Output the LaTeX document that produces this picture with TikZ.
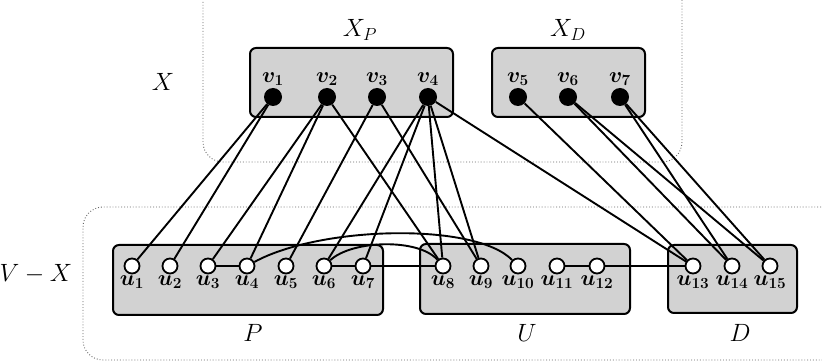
\RequirePackage{fix-cm}
\documentclass[tikz,border=0pt]{standalone}
\begin{document}
\begin{tikzpicture}[x=1pt,y=-1pt,
  grp/.style={draw, line width=2pt, rounded corners=6pt, fill=gray!35, inner sep=0pt},
  vn/.style={circle, fill=black, minimum size=18pt, inner sep=0pt},
  un/.style={circle, draw, line width=1.8pt, fill=white, minimum size=15pt, inner sep=0pt},
  edge/.style={line width=1.9pt},
  lab/.style={font=\fontsize{22}{25}\selectfont\boldmath},
  big/.style={font=\fontsize{25}{29}\selectfont},
  region/.style={dotted, line width=0.9pt, black!60, rounded corners=20pt},
  every label/.style={lab, inner sep=0pt}
]
\useasboundingbox (0,0) rectangle (822,363);

% dotted regions
\draw[region] (203,-30) -- (203,162) -- (682,162) -- (682,-30);
\draw[region] (850,207) -- (83,207) -- (83,360) -- (850,360);

% group boxes
\node[grp, minimum width=203pt, minimum height=69pt] (XP) at (351.5,82.5) {};
\node[grp, minimum width=153pt, minimum height=69pt] (XD) at (568.5,82.5) {};
\node[grp, minimum width=270pt, minimum height=70pt] (P) at (248,280) {};
\node[grp, minimum width=210pt, minimum height=70pt] (U) at (525,279) {};
\node[grp, minimum width=129pt, minimum height=68pt] (D) at (732.5,279) {};

% big labels
\node[big] (lX) at (163,82) {$X$};
\node[big] (lVX) at (36,274) {$V-X$};
\node[big] (lXP) at (360,30) {$X_P$};
\node[big] (lXD) at (568,30) {$X_D$};
\node[big] (lP) at (253,333) {$P$};
\node[big] (lU) at (527,333) {$U$};
\node[big] (lD) at (740,333) {$D$};

% X nodes
\foreach \n/\x in {1/273,2/327,3/377,4/428,5/518,6/568,7/620}
  \node[vn, label={[label distance=2pt]above:$v_{\n}$}] (v\n) at (\x,97) {};

% V-X nodes
\foreach \n/\x in {1/132,2/170,3/208,4/247,5/286,6/324,7/363,8/443,9/481,10/518,11/557,12/597,13/693,14/732,15/770}
  \node[un, label={[label distance=1pt]below:$u_{\n}$}] (u\n) at (\x,266) {};

% edges X -> V-X
\foreach \a/\b in {1/1,1/2,2/3,2/4,2/8,3/5,3/9,4/6,4/7,4/8,4/9,4/13,5/13,6/14,6/15,7/14,7/15}
  \draw[edge] (v\a) -- (u\b);

% edges inside V-X
\draw[edge] (u3) -- (u4);
\draw[edge] (u6) -- (u7);
\draw[edge] (u7) -- (u8);
\draw[edge] (u11) -- (u12);
\draw[edge] (u12) -- (u13);
\draw[edge] (u4) .. controls (320,226) and (475,222) .. (u10);
\draw[edge] (u6) .. controls (352,240) and (418,238) .. (u8);
\end{tikzpicture}
\end{document}
